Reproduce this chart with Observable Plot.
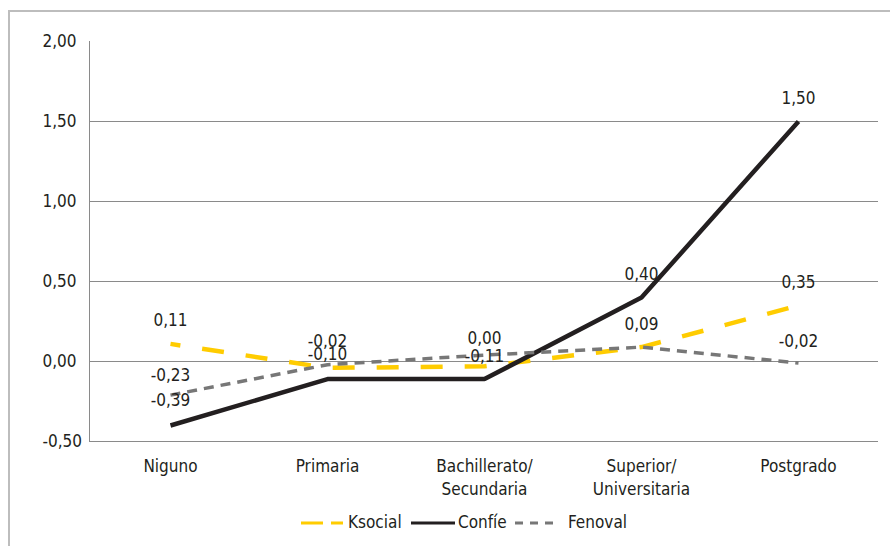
<!DOCTYPE html>
<html>
<head>
<meta charset="utf-8">
<script src="https://cdn.jsdelivr.net/npm/d3@7"></script>
<script src="https://cdn.jsdelivr.net/npm/@observablehq/plot@0.6"></script>
<style>
  html, body { margin: 0; padding: 0; background: #fff; }
  body { width: 890px; height: 546px; position: relative; overflow: hidden;
         font-family: "Liberation Sans Narrow", "Arial Narrow", "DejaVu Sans Condensed", "Roboto Condensed", sans-serif;
         font-stretch: condensed; color: #231f20; }
  #frame { position: absolute; left: 8px; top: 10px; width: 900px; height: 560px;
           border-left: 2px solid #bdbdbd; border-top: 2px solid #bdbdbd; box-sizing: border-box; }
  #chart { position: absolute; left: 0; top: 0; }
  #legend { position: absolute; left: 0; top: 511px; width: 890px; height: 24px; font-size: 17px; white-space: nowrap; }
  #legend .sw { position: absolute; top: 9px; display: block; }
  #legend .lb { position: absolute; top: 1px; line-height: 20px; }
</style>
</head>
<body>
<div id="frame"></div>
<div id="chart"></div>
<div id="legend"></div>
<script>
// ---- data ----
const categories = ["Niguno", "Primaria", "Bachillerato/\nSecundaria", "Superior/\nUniversitaria", "Postgrado"];
const ksocial = [0.11, -0.04, -0.03, 0.09, 0.35];
const confie  = [-0.40, -0.11, -0.11, 0.40, 1.50];
const fenoval = [-0.21, -0.02, 0.04, 0.09, -0.01];
const seriesNames = ["Ksocial", "Confíe", "Fenoval"];
const yTicks = [-0.5, 0, 0.5, 1, 1.5, 2];
const gridValues = [-0.5, 0, 0.5, 1, 1.5];
// data labels as printed in the chart
const labelCategoryIndex = [0, 0, 0, 1, 1, 2, 2, 3, 3, 4, 4, 4];
const labelValues = [0.11, -0.23, -0.39, -0.02, -0.10, 0.00, -0.11, 0.40, 0.09, 1.50, 0.35, -0.02];

// ---- build ----
const fmt = v => d3.format(".2f")(v).replace(".", ",").replace("−", "-");
const rows = (vals, s) => categories.map((c, i) => ({cat: c, value: vals[i], series: s}));
const rowsK = rows(ksocial, seriesNames[0]);
const rowsC = rows(confie, seriesNames[1]);
const rowsF = rows(fenoval, seriesNames[2]);
const labelRows = labelValues.map((v, i) => ({cat: categories[labelCategoryIndex[i]], value: v}));

const styles = {
  Ksocial: {stroke: "#ffcc00", strokeWidth: 4.5, strokeDasharray: "22,22", strokeDashoffset: 12},
  "Confíe": {stroke: "#231f20", strokeWidth: 4.5},
  Fenoval: {stroke: "#777777", strokeWidth: 3.5, strokeDasharray: "10,7"}
};

const chart = Plot.plot({
  width: 890,
  height: 500,
  marginLeft: 89,
  marginRight: 12,
  marginTop: 41,
  marginBottom: 59,
  style: {fontSize: "17px", fontFamily: "'Liberation Sans Narrow', 'Arial Narrow', 'DejaVu Sans Condensed', sans-serif", color: "#231f20", background: "transparent"},
  x: {type: "point", domain: categories, padding: 0.5},
  y: {domain: [-0.5, 2]},
  marks: [
    Plot.ruleY(gridValues, {stroke: "#8a8a8a", strokeWidth: 1}),
    Plot.frame({anchor: "left", stroke: "#8a8a8a"}),
    Plot.line(rowsK, {x: "cat", y: "value", ...styles.Ksocial, strokeLinecap: "butt", strokeLinejoin: "miter"}),
    Plot.line(rowsC, {x: "cat", y: "value", ...styles["Confíe"], strokeLinecap: "butt", strokeLinejoin: "miter"}),
    Plot.line(rowsF, {x: "cat", y: "value", ...styles.Fenoval, strokeLinecap: "butt", strokeLinejoin: "miter"}),
    Plot.text(labelRows, {x: "cat", y: "value", text: d => fmt(d.value), dy: -23, fill: "#231f20", fontSize: 17}),
    Plot.axisY(yTicks, {tickSize: 0, tickPadding: 0, dx: -47, textAnchor: "start", tickFormat: fmt, label: null, fill: "#231f20"}),
    Plot.axisX({tickSize: 0, tickPadding: 14, label: null, lineHeight: 1.35, fill: "#231f20"})
  ]
});
document.getElementById("chart").appendChild(chart);

// ---- legend ----
const legend = d3.select("#legend");
const swatch = [
  {name: seriesNames[0], x: 301, w: 42, tx: 348, stroke: "#ffcc00", dash: "22,8"},
  {name: seriesNames[1], x: 411, w: 44, tx: 458, stroke: "#231f20", dash: null},
  {name: seriesNames[2], x: 515, w: 38, tx: 568, stroke: "#777777", dash: "8,7"}
];
swatch.forEach(s => {
  const svg = legend.append("svg").attr("class", "sw").attr("width", s.w).attr("height", 6).style("left", s.x + "px");
  svg.append("line").attr("x1", 0).attr("x2", s.w).attr("y1", 3).attr("y2", 3)
    .attr("stroke", s.stroke).attr("stroke-width", 3)
    .attr("stroke-dasharray", s.dash);
  legend.append("span").attr("class", "lb").style("left", s.tx + "px").text(s.name);
});
</script>
</body>
</html>
